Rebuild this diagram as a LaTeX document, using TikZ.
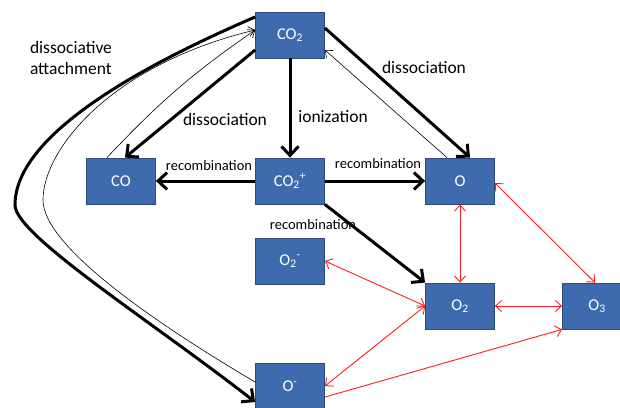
\documentclass[tikz,border=0pt]{standalone}
\usepackage{fontspec}
\setmainfont{Carlito}
\usetikzlibrary{arrows.meta,calc}
\definecolor{boxfill}{RGB}{62,106,174}
\definecolor{boxline}{RGB}{44,74,122}
\definecolor{redline}{RGB}{255,30,30}
\tikzset{
  species/.style={draw=boxline, line width=0.8pt, fill=boxfill, text=white,
    minimum width=69pt, minimum height=46pt, inner sep=0pt,
    font=\fontsize{16.5}{18}\selectfont},
  lbl/.style={font=\fontsize{17.5}{21.5}\selectfont, text=black, inner sep=0pt},
  rlbl/.style={font=\fontsize{14.5}{16}\selectfont, text=black, inner sep=0pt},
  thick arrow/.style={line width=3pt, -{Straight Barb[length=9pt,width=17pt,line width=3pt]}},
  thin arrow/.style={line width=0.6pt, -{Straight Barb[length=6pt,width=10pt,line width=0.6pt]}},
  red both/.style={draw=redline, line width=0.9pt, {Straight Barb[length=6pt,width=11pt,line width=0.9pt]}-{Straight Barb[length=6pt,width=11pt,line width=0.9pt]}},
  red one/.style={draw=redline, line width=0.9pt, -{Straight Barb[length=6pt,width=11pt,line width=0.9pt]}},
}
\begin{document}
\begin{tikzpicture}[x=1pt,y=-1pt]
\useasboundingbox (0,0) rectangle (620,407);
\begin{scope}
\clip (0,0) rectangle (620,407);
% nodes
\node[species] (CO2)  at (290,35)  {CO\textsubscript{2}};
\node[species] (CO)   at (121,181) {CO};
\node[species] (CO2p) at (290,181) {CO\textsubscript{2}\textsuperscript{+}};
\node[species] (O)    at (460,181) {O};
\node[species] (O2m)  at (290,261) {O\textsubscript{2}\textsuperscript{-}};
\node[species] (O2)   at (460,306) {O\textsubscript{2}};
\node[species] (O3)   at (597,306) {O\textsubscript{3}};
\node[species] (Om)   at (290,386) {O\textsuperscript{-}};

% labels
\node[lbl, align=left] (lda) at (71,58) {dissociative\\attachment};
\node[lbl] (ldl) at (225,119) {dissociation};
\node[lbl] (lion) at (333,117) {ionization};
\node[lbl] (ldr) at (424,67) {dissociation};
\node[rlbl] (lrl) at (209,166) {recombination};
\node[rlbl] (lrr) at (378,164) {recombination};
\node[rlbl] (lrd) at (313,225) {recombination};

% black arrows
\draw[thick arrow] ([yshift=-15pt]CO2.west) -- ([xshift=4pt]CO.north);
\draw[thin arrow] ([xshift=-14pt]CO.north) to[bend left=6] ([yshift=5pt]CO2.west);
\draw[thick arrow] (CO2.south) -- (CO2p.north);
\draw[thick arrow] ([yshift=7pt]CO2.east) -- ([xshift=10pt]O.north);
\draw[thin arrow] ([xshift=-13pt]O.north) -- ([yshift=-15pt]CO2.east);
\draw[thick arrow] (CO2p.west) -- (CO.east);
\draw[thick arrow] (CO2p.east) -- (O.west);
\draw[thick arrow] (CO2p.south east) -- (O2.north west);

% big curves
\coordinate (tl) at (15,205);
\coordinate (nl) at (43,200);
\draw[thick arrow] ([yshift=18pt]CO2.west) .. controls (160,58) and (15,130) .. (tl)
   .. controls (15,235) and (150,320) .. ([yshift=-16pt]Om.west);
\draw[thin arrow] ([yshift=4pt]Om.west) .. controls (150,320) and (43,245) .. (nl)
   .. controls (43,150) and (110,65) .. ([yshift=5pt]CO2.west);

% red arrows
\draw[red both] (O.south) -- (O2.north);
\draw[red both] ([yshift=-2pt]O.east) -- ([xshift=-2pt]O3.north);
\draw[red both] (O2m.east) -- (O2.west);
\draw[red both] (O2.east) -- (O3.west);
\draw[red both] (Om.east) -- (O2.west);
\draw[red one] ([yshift=-11pt]Om.east) -- (O3.south west);
\end{scope}
\end{tikzpicture}
\end{document}
